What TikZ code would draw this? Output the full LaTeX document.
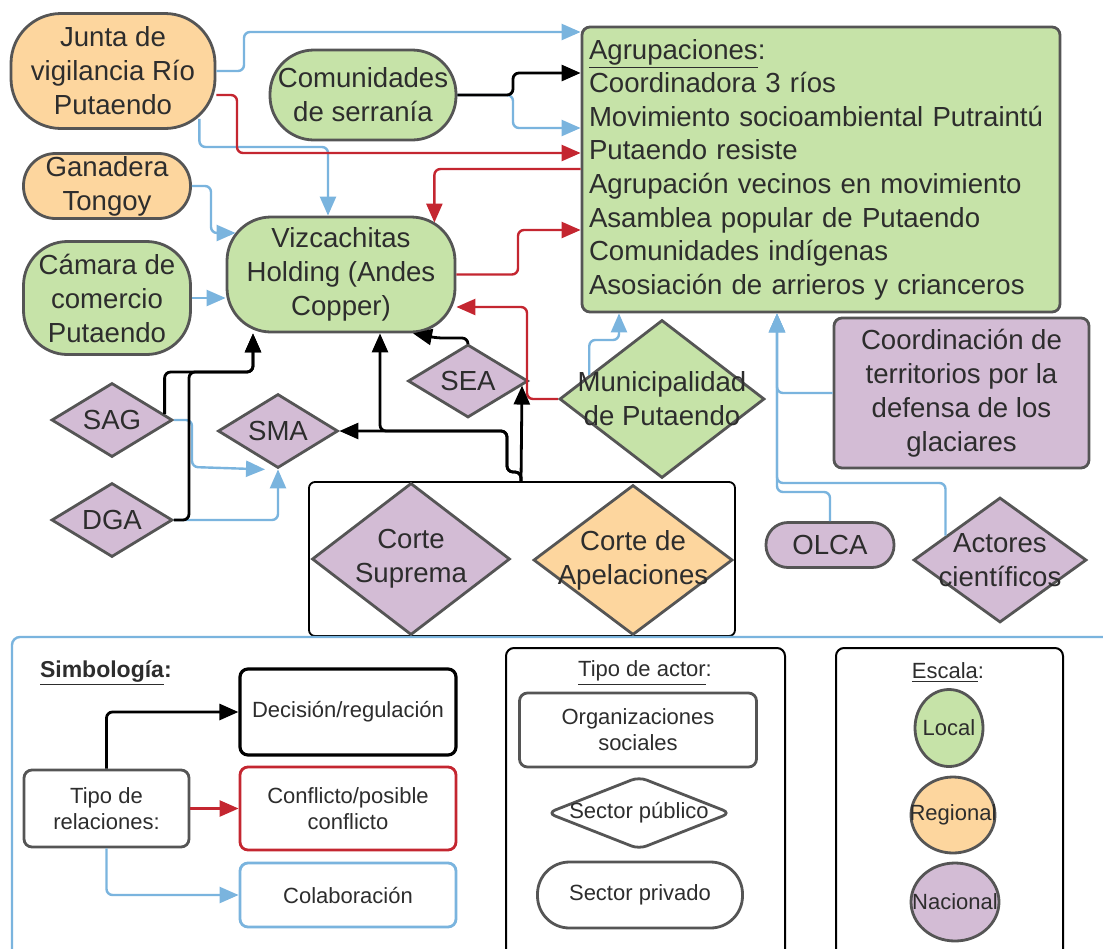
\documentclass[tikz,border=0pt]{standalone}
\usepackage{fontspec}
\setmainfont{Liberation Sans}
\usetikzlibrary{arrows.meta,shapes.geometric,calc}

\definecolor{verde}{RGB}{198,227,168}
\definecolor{naranja}{RGB}{253,214,158}
\definecolor{morado}{RGB}{211,188,213}
\definecolor{borde}{RGB}{85,85,85}
\definecolor{azul}{RGB}{122,180,222}
\definecolor{rojo}{RGB}{196,38,48}
\definecolor{texto}{RGB}{45,45,45}

\newcommand{\nfont}{\fontsize{13.8}{17}\selectfont}
\newcommand{\afont}{\fontsize{13.8}{16.8}\selectfont}
\newcommand{\lfont}{\fontsize{11}{13}\selectfont}

\begin{document}
\begin{tikzpicture}[x=0.5pt,y=-0.5pt,
  every node/.style={text=texto},
  actor/.style={draw=borde, line width=1.4pt, inner sep=0pt, align=center, font=\nfont},
  org/.style={actor, rounded corners=#1},
  pub/.style={actor, diamond},
  lab/.style={align=center, font=\nfont, text=texto, inner sep=0pt},
  leglab/.style={align=center, font=\lfont, text=texto, inner sep=0pt},
  loc/.style={fill=verde}, reg/.style={fill=naranja}, nac/.style={fill=morado},
  decis/.style={-{Triangle[length=9.5pt,width=8pt]}, line width=1.4pt, black, rounded corners=3pt},
  confl/.style={decis, rojo, line width=1.2pt},
  colab/.style={decis, azul, line width=1.2pt},
  legbox/.style={draw=#1, line width=1.4pt, rounded corners=4pt, fill=white, inner sep=0pt, align=center, font=\lfont}]
  \useasboundingbox (0,0) rectangle (1103,948);
  \clip (0,0) rectangle (1103,948);
  \fill[white] (0,0) rectangle (1103,948);

  % actores
  \node[org=25pt, reg, minimum width=102pt, minimum height=57.5pt] (junta) at (113,71) {Junta de\\vigilancia Río\\Putaendo};
  \node[org=22pt, loc, minimum width=93pt, minimum height=45pt] (com) at (363,95) {Comunidades\\de serranía};
  \node[org=16pt, reg, minimum width=83.5pt, minimum height=32.5pt] (gan) at (107,186) {Ganadera\\Tongoy};
  \node[org=22pt, loc, minimum width=83.5pt, minimum height=56.5pt] (cam) at (107,298) {Cámara de\\comercio\\Putaendo};
  \node[org=22pt, loc, minimum width=114pt, minimum height=57.5pt] (vizc) at (341,274.5) {Vizcachitas\\Holding (Andes\\Copper)};
  \node[org=4pt, loc, minimum width=239pt, minimum height=142.5pt, text width=232pt, align=left, font=\afont] (agr) at (821,169.5)
    {\underline{Agrupaciones}:\\Coordinadora 3 ríos\\Movimiento socioambiental Putraintú\\Putaendo resiste\\Agrupación vecinos en movimiento\\Asamblea popular de Putaendo\\Comunidades indígenas\\Asosiación de arrieros y crianceros};
  \node[org=4pt, nac, minimum width=127.5pt, minimum height=75pt] (coord) at (961.5,393) {Coordinación de\\territorios por la\\defensa de los\\glaciares};
  \node[pub, loc, minimum width=102.5pt, minimum height=79pt, label={[lab]center:Municipalidad\\de Putaendo}] (muni) at (662,399) {};
  \node[pub, nac, minimum width=60pt, minimum height=36.5pt, label={[lab]center:SEA}] (sea) at (468,381) {};
  \node[pub, nac, minimum width=60pt, minimum height=37pt, label={[lab]center:SMA}] (sma) at (278,431) {};
  \node[pub, nac, minimum width=60.5pt, minimum height=37pt, label={[lab]center:SAG}] (sag) at (112,420) {};
  \node[pub, nac, minimum width=60.5pt, minimum height=37pt, label={[lab]center:DGA}] (dga) at (112,520) {};
  \node[draw=black, line width=0.9pt, rounded corners=3pt, fill=white, minimum width=213pt, minimum height=77pt] (court) at (522,559) {};
  \node[pub, nac, minimum width=99pt, minimum height=76pt, label={[lab]center:Corte\\Suprema}] (sup) at (411,559) {};
  \node[pub, reg, minimum width=99.5pt, minimum height=75pt, label={[lab]center:Corte de\\Apelaciones}] (apel) at (633,560) {};
  \node[org=11pt, nac, minimum width=64pt, minimum height=22.5pt] (olca) at (830,545) {OLCA};
  \node[pub, nac, minimum width=86.5pt, minimum height=62.5pt, label={[lab]center:Actores\\científicos}] (act) at (1000,560) {};

  % colaboracion
  \draw[colab] (junta.east) -| (244,32) -- (agr.west |- 0,32);
  \draw[colab] ([xshift=-8.5pt,yshift=5.5pt]junta.south east) |- (328,147) -- (vizc.north -| 328,0);
  \draw[colab] (com.east) -| (513,128) -- (agr.west |- 0,128);
  \draw[colab] (gan.east) -| (211,233) -- ($(vizc.west |- 0,233)+(10,0)$);
  \draw[colab] (cam.east) -- (vizc.west |- cam.east);
  \draw[colab] (sag.east) -| (192,467) -- (sma.south -| 265,0);
  \draw[colab] (dga.east) -| (sma.south);
  \draw[colab] ($(muni.west)!0.3!(muni.north)$) |- (619,340) -- (agr.south -| 619,0);
  \draw[colab] (coord.west) -| (agr.south -| 777,0);
  \draw[colab] (olca.north) |- (777,492) -- (agr.south -| 777,0);
  \draw[colab] ($(act.west)!0.38!(act.north)$) |- (777,483) -- (agr.south -| 777,0);

  % conflicto
  \draw[confl] (junta.east |- 0,95) -| (237,153) -- (agr.west |- 0,153);
  \draw[confl] (agr.west |- 0,169) -| ([xshift=-11pt,yshift=-3.5pt]vizc.north east);
  \draw[confl] (vizc.east) -| (518,230) -- (agr.west |- 0,230);
  \draw[confl] (muni.west) -| (527,307) -- (vizc.east |- 0,307);

  % decision
  \draw[decis] (com.east) -| (513,73) -- (agr.west |- 0,73);
  \draw[decis] ($(sag.east)!0.15!(sag.north)$) |- (253,372) -- (vizc.south -| 253,0);
  \draw[decis] (dga.east) -| (189,372) -| (vizc.south -| 253,0);
  \draw[decis] (court.north -| 521,0) -- ($(sea.east)!0.12!(sea.south)$);
  \draw[decis] (court.north -| 521,0) |- (507,472) |- (sma.east);
  \draw[decis] (court.north -| 521,0) |- (507,472) |- (380,431) -- (vizc.south -| 380,0);
  \draw[decis] (sea.north) |- (437,338) -- (vizc.south -| 413,0);

  % simbologia
  \draw[azul, line width=1.2pt, rounded corners=4pt] (12,637) rectangle (1120,980);
  \node[anchor=west, font=\fontsize{11.5}{13}\selectfont\bfseries] (simb) at (33,673) {\underline{Simbología}:};
  \node[legbox=borde, minimum width=82.5pt, minimum height=38.5pt] (tipo) at (106.5,808.5) {Tipo de\\relaciones:};
  \node[legbox=black, line width=1.6pt, minimum width=108pt, minimum height=43pt] (dec) at (348,712) {Decisión/regulación};
  \node[legbox=rojo, minimum width=108pt, minimum height=41.5pt] (conf) at (348,808.5) {Conflicto/posible\\conflicto};
  \node[legbox=azul, minimum width=108pt, minimum height=32pt] (col) at (348,895) {Colaboración};
  \draw[decis] (tipo.north) |- (dec.west);
  \draw[confl] (tipo.east) -- (conf.west);
  \draw[colab] (tipo.south) |- (col.west);

  \draw[black, line width=1pt, rounded corners=4pt] (506,648) rectangle (785,990);
  \node[leglab] (tact) at (645,673) {\underline{Tipo de actor}:};
  \node[legbox=borde, minimum width=118.5pt, minimum height=37pt] (orgs) at (638,730) {Organizaciones\\sociales};
  \node[legbox=borde, diamond, minimum width=92pt, minimum height=36.5pt, label={[leglab]center:Sector público}] (spub) at (639,813) {};
  \node[legbox=borde, rounded corners=16pt, minimum width=102.5pt, minimum height=33pt] (spriv) at (640,895) {Sector privado};

  \draw[black, line width=1pt, rounded corners=4pt] (836,648) rectangle (1063,990);
  \node[leglab] (esc) at (948,673) {\underline{Escala}:};
  \node[actor, ellipse, loc, minimum width=34pt, minimum height=38.5pt, label={[leglab]center:Local}] (local) at (949,728) {};
  \node[actor, ellipse, reg, minimum width=42pt, minimum height=38pt, label={[leglab]center:Regional}] (regional) at (953,815) {};
  \node[actor, ellipse, nac, minimum width=44pt, minimum height=39pt, label={[leglab]center:Nacional}] (nacional) at (955,902) {};
\end{tikzpicture}
\end{document}
